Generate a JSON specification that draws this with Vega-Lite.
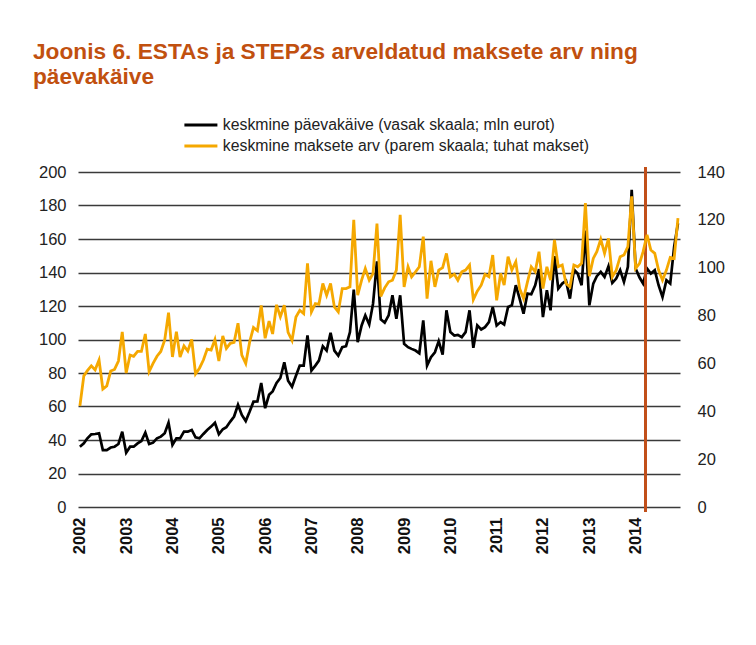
{
  "$schema": "https://vega.github.io/schema/vega-lite/v6.json",
  "width": 602,
  "height": 335,
  "autosize": {"type": "none"},
  "padding": {"left": 78, "top": 172, "right": 76, "bottom": 138},
  "background": "white",
  "title": {
    "text": ["Joonis 6. ESTAs ja STEP2s arveldatud maksete arv ning", "päevakäive"],
    "anchor": "start",
    "frame": "group",
    "font": "Liberation Sans",
    "fontSize": 22.7,
    "fontWeight": "bold",
    "color": "#c1500f",
    "dx": -45,
    "offset": 28,
    "lineHeight": 25
  },
  "config": {
    "view": {"stroke": null},
    "font": "Liberation Sans"
  },
  "data": {
    "format": {"parse": {"d": "utc:'%Y-%m-%d'"}},
    "values": [
      {"d":"2002-01-01","p":36,"a":42.2},{"d":"2002-02-01","p":38,"a":54.8},{"d":"2002-03-01","p":41,"a":57},{"d":"2002-04-01","p":43.4,"a":59},{"d":"2002-05-01","p":43.6,"a":57.3},{"d":"2002-06-01","p":44,"a":61.4},{"d":"2002-07-01","p":34,"a":49.3},{"d":"2002-08-01","p":34,"a":50.6},{"d":"2002-09-01","p":35.5,"a":56.8},{"d":"2002-10-01","p":36,"a":57.5},{"d":"2002-11-01","p":37.6,"a":61},{"d":"2002-12-01","p":45,"a":73.2},
      {"d":"2003-01-01","p":32.4,"a":56},{"d":"2003-02-01","p":36,"a":63.5},{"d":"2003-03-01","p":36,"a":63},{"d":"2003-04-01","p":38,"a":65},{"d":"2003-05-01","p":39.4,"a":65},{"d":"2003-06-01","p":44.4,"a":72.3},{"d":"2003-07-01","p":37.6,"a":56.6},{"d":"2003-08-01","p":38.4,"a":60},{"d":"2003-09-01","p":41,"a":63},{"d":"2003-10-01","p":42,"a":65},{"d":"2003-11-01","p":44,"a":69.8},{"d":"2003-12-01","p":50.3,"a":81.2},
      {"d":"2004-01-01","p":37,"a":62.7},{"d":"2004-02-01","p":41,"a":73.3},{"d":"2004-03-01","p":41,"a":62.7},{"d":"2004-04-01","p":45,"a":67.3},{"d":"2004-05-01","p":45,"a":65.2},{"d":"2004-06-01","p":46,"a":70},{"d":"2004-07-01","p":41.6,"a":55.6},{"d":"2004-08-01","p":41,"a":58},{"d":"2004-09-01","p":43.6,"a":61.4},{"d":"2004-10-01","p":46,"a":66},{"d":"2004-11-01","p":48,"a":65.6},{"d":"2004-12-01","p":50.3,"a":70},
      {"d":"2005-01-01","p":43.4,"a":61},{"d":"2005-02-01","p":46.4,"a":71.5},{"d":"2005-03-01","p":47.6,"a":66.3},{"d":"2005-04-01","p":51,"a":68.4},{"d":"2005-05-01","p":54,"a":68.8},{"d":"2005-06-01","p":61,"a":76.8},{"d":"2005-07-01","p":55,"a":63.5},{"d":"2005-08-01","p":51.3,"a":60},{"d":"2005-09-01","p":57,"a":69},{"d":"2005-10-01","p":62.9,"a":75},{"d":"2005-11-01","p":63,"a":73.7},{"d":"2005-12-01","p":74,"a":84.2},
      {"d":"2006-01-01","p":59,"a":70.5},{"d":"2006-02-01","p":67,"a":77.7},{"d":"2006-03-01","p":69,"a":72.3},{"d":"2006-04-01","p":74,"a":84.5},{"d":"2006-05-01","p":77,"a":79.5},{"d":"2006-06-01","p":86.4,"a":84.3},{"d":"2006-07-01","p":75.4,"a":73},{"d":"2006-08-01","p":71.8,"a":69.6},{"d":"2006-09-01","p":78.4,"a":79.4},{"d":"2006-10-01","p":84.4,"a":82.2},{"d":"2006-11-01","p":84.4,"a":80.8},{"d":"2006-12-01","p":102.4,"a":101.8},
      {"d":"2007-01-01","p":81.4,"a":81.5},{"d":"2007-02-01","p":84.4,"a":85},{"d":"2007-03-01","p":87.4,"a":84.7},{"d":"2007-04-01","p":96,"a":93.4},{"d":"2007-05-01","p":93.4,"a":88.5},{"d":"2007-06-01","p":104,"a":93.4},{"d":"2007-07-01","p":93.4,"a":83.6},{"d":"2007-08-01","p":90.4,"a":81.5},{"d":"2007-09-01","p":95.4,"a":91.3},{"d":"2007-10-01","p":96,"a":91.3},{"d":"2007-11-01","p":104.4,"a":92},{"d":"2007-12-01","p":129.8,"a":120},
      {"d":"2008-01-01","p":98.4,"a":88.5},{"d":"2008-02-01","p":108.4,"a":94.8},{"d":"2008-03-01","p":114.4,"a":99.7},{"d":"2008-04-01","p":109,"a":94.8},{"d":"2008-05-01","p":121.4,"a":97.6},{"d":"2008-06-01","p":146.6,"a":118.4},{"d":"2008-07-01","p":112,"a":88},{"d":"2008-08-01","p":110,"a":91.6},{"d":"2008-09-01","p":114.4,"a":94.1},{"d":"2008-10-01","p":126.4,"a":94.8},{"d":"2008-11-01","p":112.4,"a":99},{"d":"2008-12-01","p":126.4,"a":122.1},
      {"d":"2009-01-01","p":97.4,"a":92},{"d":"2009-02-01","p":95.4,"a":100.4},{"d":"2009-03-01","p":94.4,"a":96.2},{"d":"2009-04-01","p":93.4,"a":98.3},{"d":"2009-05-01","p":91.8,"a":100.4},{"d":"2009-06-01","p":111.4,"a":113},{"d":"2009-07-01","p":84.4,"a":87.1},{"d":"2009-08-01","p":89.4,"a":102.9},{"d":"2009-09-01","p":92.4,"a":92},{"d":"2009-10-01","p":99,"a":99},{"d":"2009-11-01","p":91,"a":100},{"d":"2009-12-01","p":117.4,"a":106},
      {"d":"2010-01-01","p":104.4,"a":96.2},{"d":"2010-02-01","p":102.4,"a":97.3},{"d":"2010-03-01","p":102.8,"a":94.8},{"d":"2010-04-01","p":101.4,"a":98.3},{"d":"2010-05-01","p":104.4,"a":99},{"d":"2010-06-01","p":117.4,"a":101.1},{"d":"2010-07-01","p":95,"a":86.7},{"d":"2010-08-01","p":108.4,"a":90.2},{"d":"2010-09-01","p":106,"a":92.7},{"d":"2010-10-01","p":107.4,"a":97.2},{"d":"2010-11-01","p":110.4,"a":96.2},{"d":"2010-12-01","p":119.4,"a":105.3},
      {"d":"2011-01-01","p":108.4,"a":86.4},{"d":"2011-02-01","p":110.4,"a":97.6},{"d":"2011-03-01","p":109,"a":92.7},{"d":"2011-04-01","p":119.4,"a":104.6},{"d":"2011-05-01","p":120.4,"a":99},{"d":"2011-06-01","p":132.4,"a":102.5},{"d":"2011-07-01","p":124.4,"a":91.3},{"d":"2011-08-01","p":115.4,"a":87.1},{"d":"2011-09-01","p":127.4,"a":94.1},{"d":"2011-10-01","p":127,"a":100.4},{"d":"2011-11-01","p":132.4,"a":98.3},{"d":"2011-12-01","p":142,"a":106.7},
      {"d":"2012-01-01","p":113.4,"a":91.3},{"d":"2012-02-01","p":129.4,"a":100.4},{"d":"2012-03-01","p":117.4,"a":94.8},{"d":"2012-04-01","p":149.8,"a":111.6},{"d":"2012-05-01","p":130.4,"a":100.4},{"d":"2012-06-01","p":133.4,"a":101.1},{"d":"2012-07-01","p":135,"a":93.4},{"d":"2012-08-01","p":124.4,"a":92},{"d":"2012-09-01","p":141.8,"a":101.1},{"d":"2012-10-01","p":139.4,"a":100.4},{"d":"2012-11-01","p":132.4,"a":101.8},{"d":"2012-12-01","p":165,"a":127},
      {"d":"2013-01-01","p":120.4,"a":96.5},{"d":"2013-02-01","p":133.4,"a":103.9},{"d":"2013-03-01","p":137.8,"a":106.7},{"d":"2013-04-01","p":140.4,"a":111.9},{"d":"2013-05-01","p":137.4,"a":106},{"d":"2013-06-01","p":143.8,"a":112.3},{"d":"2013-07-01","p":133.8,"a":96.2},{"d":"2013-08-01","p":136.4,"a":99},{"d":"2013-09-01","p":141.4,"a":104.6},{"d":"2013-10-01","p":134.4,"a":105.3},{"d":"2013-11-01","p":143.4,"a":108.8},{"d":"2013-12-01","p":189.4,"a":129.8},
      {"d":"2014-01-01","p":142.4,"a":99.7},{"d":"2014-02-01","p":137,"a":101.8},{"d":"2014-03-01","p":133.4,"a":106.7},{"d":"2014-04-01","p":142.4,"a":113.7},{"d":"2014-05-01","p":139.4,"a":107.4},{"d":"2014-06-01","p":141.4,"a":106},{"d":"2014-07-01","p":132.4,"a":99},{"d":"2014-08-01","p":125.4,"a":94.8},{"d":"2014-09-01","p":135.4,"a":99},{"d":"2014-10-01","p":133.4,"a":104.3},{"d":"2014-11-01","p":155.4,"a":103.9},{"d":"2014-12-01","p":169.4,"a":120.7}
    ]
  },
  "encoding": {
    "x": {
      "field": "d",
      "type": "temporal",
      "scale": {"type": "utc", "domain": [{"year": 2001, "month": 12, "date": 17, "utc": true}, {"year": 2014, "month": 12, "date": 17, "utc": true}]},
      "axis": {
        "title": null,
        "format": "%Y",
        "tickCount": {"interval": "year", "step": 1},
        "labelAngle": -90,
        "labelFontWeight": "bold",
        "labelFontSize": 16.5,
        "labelColor": "#111",
        "labelPadding": 10,
        "labelFlush": false,
        "labelOverlap": false,
        "grid": false,
        "ticks": false,
        "domain": false
      }
    }
  },
  "layer": [
    {
      "layer": [
        {
          "mark": {"type": "line", "strokeWidth": 2.7, "strokeJoin": "miter", "clip": false},
          "encoding": {
            "y": {
              "field": "p",
              "type": "quantitative",
              "scale": {"domain": [0, 200], "nice": false, "zero": true},
              "axis": {
                "title": null,
                "orient": "left",
                "values": [0, 20, 40, 60, 80, 100, 120, 140, 160, 180, 200],
                "labelFontSize": 16.5,
                "labelColor": "#222",
                "labelPadding": 12,
                "labelOverlap": false,
                "grid": true,
                "gridColor": "#3a3a3a",
                "gridWidth": 1.5,
                "ticks": false,
                "domain": false
              }
            },
            "color": {
              "datum": "keskmine päevakäive (vasak skaala; mln eurot)",
              "type": "nominal",
              "scale": {
                "domain": ["keskmine päevakäive (vasak skaala; mln eurot)", "keskmine maksete arv (parem skaala; tuhat makset)"],
                "range": ["#000000", "#f5a800"]
              },
              "legend": {
                "title": null,
                "orient": "none",
                "legendX": 115,
                "legendY": -55,
                "direction": "vertical",
                "symbolType": "M-3,0H3",
                "symbolStrokeWidth": 3,
                "symbolSize": 121,
                "labelFontSize": 15.8,
                "labelColor": "#222",
                "labelOffset": 14,
                "labelLimit": 0,
                "rowPadding": 4
              }
            }
          }
        },
        {
          "mark": {"type": "rule", "color": "#c0501a", "strokeWidth": 2.2},
          "encoding": {
            "x": {"datum": {"year": 2014, "month": 3, "date": 17, "utc": true}, "type": "temporal"},
            "y": {
              "datum": -3,
              "type": "quantitative",
              "axis": {
                "title": null,
                "orient": "left",
                "values": [0, 20, 40, 60, 80, 100, 120, 140, 160, 180, 200],
                "labelFontSize": 16.5,
                "labelColor": "#222",
                "labelPadding": 12,
                "labelOverlap": false,
                "grid": true,
                "gridColor": "#3a3a3a",
                "gridWidth": 1.5,
                "ticks": false,
                "domain": false
              }
            },
            "y2": {"datum": 202.5}
          }
        }
      ]
    },
    {
      "mark": {"type": "line", "strokeWidth": 2.8, "strokeJoin": "miter"},
      "encoding": {
        "y": {
          "field": "a",
          "type": "quantitative",
          "scale": {"domain": [0, 140], "nice": false},
          "axis": {
            "title": null,
            "orient": "right",
            "values": [0, 20, 40, 60, 80, 100, 120, 140],
            "labelFontSize": 16.5,
            "labelColor": "#222",
            "labelPadding": 17,
            "labelOverlap": false,
            "grid": false,
            "ticks": false,
            "domain": false
          }
        },
        "color": {"datum": "keskmine maksete arv (parem skaala; tuhat makset)", "type": "nominal"}
      }
    }
  ],
  "resolve": {"scale": {"y": "independent"}}
}
